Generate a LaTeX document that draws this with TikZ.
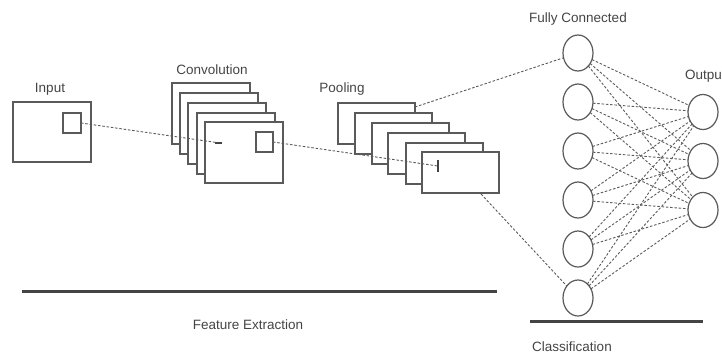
\documentclass[tikz,border=0pt]{standalone}
\usepackage{fontspec}
\setmainfont{Liberation Sans}
\usetikzlibrary{shapes.geometric}
\definecolor{edge}{HTML}{5A5A5A}
\definecolor{ink}{HTML}{444444}
\tikzset{
  fmap/.style={draw=edge, fill=white, line width=1.2pt, rectangle, inner sep=0pt, outer sep=0pt, anchor=north west},
  convmap/.style={fmap, minimum width=78pt, minimum height=61pt},
  poolmap/.style={fmap, minimum width=77pt, minimum height=41pt},
  patch/.style={draw=edge, line width=1.2pt, rectangle, inner sep=0pt, outer sep=0pt, anchor=north west},
  neuron/.style={draw=edge, fill=white, line width=1.2pt, ellipse, inner sep=0pt, outer sep=0pt, minimum width=30pt, minimum height=36pt},
  link/.style={draw=edge, line width=0.9pt, dash pattern=on 2.5pt off 1.8pt},
  tick/.style={draw=ink, line width=2pt},
  rule/.style={draw=ink, line width=3pt},
  lbl/.style={text=ink, font=\fontsize{13.5}{15}\selectfont, inner sep=0pt},
}
\begin{document}
\begin{tikzpicture}[x=1pt, y=-1pt]
\useasboundingbox (0,0) rectangle (722,354);

% input image with its receptive field
\node[fmap, minimum width=78pt, minimum height=60pt] (in) at (13,102) {};
\node[patch, minimum width=18pt, minimum height=20pt] (inpatch) at (63,113) {};
\node[lbl] (inlbl) at (50,89) {Input};

% convolution feature maps, back to front
\node[convmap] (c1) at (172,83) {};
\node[convmap] (c2) at (180,93) {};
\node[convmap] (c3) at (188,103) {};
\node[convmap] (c4) at (197,113) {};
\node[convmap] (c5) at (205,122) {};
\node[patch, minimum width=17pt, minimum height=20pt] (cpatch) at (256,132) {};
\node[lbl] (clbl) at (212,70) {Convolution};

% pooling feature maps, back to front
\node[poolmap] (p1) at (338,103) {};
\node[poolmap] (p2) at (355,113) {};
\node[poolmap] (p3) at (372,123) {};
\node[poolmap] (p4) at (388,133) {};
\node[poolmap] (p5) at (406,143) {};
\node[poolmap] (p6) at (422,152) {};
\node[lbl] (plbl) at (342,89) {Pooling};

% projections between stages
\coordinate (cdot) at (220,143);
\coordinate (pdot) at (438,166);
\draw[link] (inpatch.east) -- (cdot);
\draw[tick] (cdot) ++(-5,0) -- ++(7,0);
\draw[link] (cpatch.east) -- (pdot);
\draw[tick] (438,160) -- (438,172);

% fully connected layer
\node[neuron] (f1) at (578,53) {};
\node[neuron] (f2) at (578,102) {};
\node[neuron] (f3) at (578,151) {};
\node[neuron] (f4) at (578,200) {};
\node[neuron] (f5) at (578,249) {};
\node[neuron] (f6) at (578,298) {};
\node[lbl] (flbl) at (578,19) {Fully Connected};

% output layer
\node[neuron, minimum height=35pt] (o1) at (703,112) {};
\node[neuron, minimum height=35pt] (o2) at (703,161) {};
\node[neuron, minimum height=35pt] (o3) at (703,210) {};
\node[lbl, anchor=west] (olbl) at (685,76) {Output};

% pooled maps flattened into the dense layer
\coordinate (ptop) at (415,107);
\coordinate (pbot) at (481,194);
\draw[link] (ptop) -- (f1);
\draw[link] (pbot) -- (f6);

% dense connections
\foreach \i in {1,...,6}
  \foreach \j in {1,2,3}
    \draw[link] (f\i) -- (o\j);

% stage brackets
\coordinate (fa) at (22,291);
\coordinate (fb) at (497,291);
\draw[rule] (fa) -- (fb);
\node[lbl] (flabel) at (248,325) {Feature Extraction};
\coordinate (ca) at (530,321);
\coordinate (cb) at (703,321);
\draw[rule] (ca) -- (cb);
\node[lbl] (clabel) at (572,347) {Classification};
\end{tikzpicture}
\end{document}
